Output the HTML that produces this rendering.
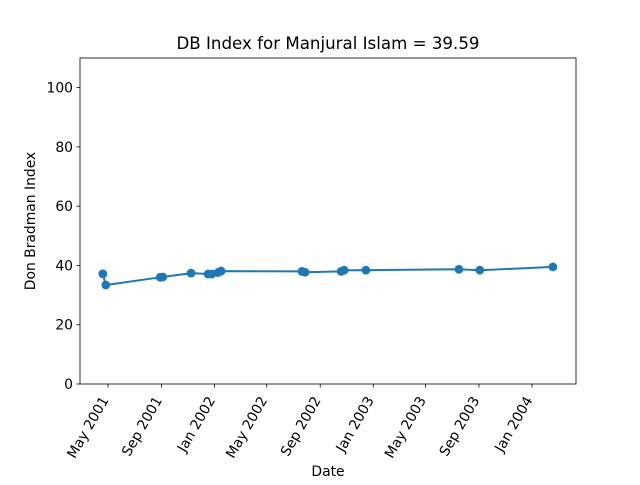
<!DOCTYPE html>
<html><head><meta charset="utf-8"><style>body{margin:0;background:#fff}svg{font-family:"DejaVu Sans","Liberation Sans",sans-serif}</style></head>
<body>
<svg id="c" width="640" height="480" xmlns="http://www.w3.org/2000/svg">
<rect width="640" height="480" fill="#fff"/>
<text x="328" y="49" text-anchor="middle" font-size="16.67">DB Index for Manjural Islam = 39.59</text>
<text x="328" y="476" text-anchor="middle" font-size="13.9">Date</text>
<text transform="translate(35,221) rotate(-90)" text-anchor="middle" font-size="13.9">Don Bradman Index</text>
<g id="axes"></g>
<rect x="80" y="58" width="496" height="326" fill="none" stroke="#000" stroke-width="0.8"/>
</svg>
<script>
const dates=["2001-04-19","2001-04-26","2001-08-29","2001-09-04","2001-11-08","2001-12-17","2001-12-26","2002-01-09","2002-01-16","2002-07-21","2002-07-28","2002-10-19","2002-10-26","2002-12-15","2003-07-17","2003-09-03","2004-02-18"];
const values=[37.2,33.4,36.0,36.1,37.4,37.1,37.1,37.6,38.1,38.0,37.7,38.0,38.4,38.4,38.7,38.4,39.5];
const xTickDates=["2001-05-01","2001-09-01","2002-01-01","2002-05-01","2002-09-01","2003-01-01","2003-05-01","2003-09-01","2004-01-01"];
const xTickLabels=["May 2001","Sep 2001","Jan 2002","May 2002","Sep 2002","Jan 2003","May 2003","Sep 2003","Jan 2004"];
const yTicks=[0,20,40,60,80,100];
const NS="http://www.w3.org/2000/svg";
const g=document.getElementById('axes');
const t0=Date.UTC(2001,4,1),t1=Date.UTC(2004,0,1);
function xs(s){const t=Date.parse(s+"T00:00:00Z");return 108+(t-t0)/(t1-t0)*(532-108);}
function ys(v){return 384-v/110*326;}
function el(n,a){const e=document.createElementNS(NS,n);for(const k in a)e.setAttribute(k,a[k]);g.appendChild(e);return e;}
yTicks.forEach(v=>{const y=ys(v);
const l=el('line',{x1:76.5,x2:80,y1:y,y2:y,stroke:'#000','stroke-width':0.8});


const t=el('text',{x:73,y:y+5,'text-anchor':'end','font-size':13.9});t.textContent=v;


});
xTickDates.forEach((d,i)=>{const x=xs(d);
const l=el('line',{x1:x,x2:x,y1:384,y2:387.5,stroke:'#000','stroke-width':0.8});


const t=el('text',{transform:`translate(${x+1},${400}) rotate(-60)`,'text-anchor':'end','font-size':13.9});t.textContent=xTickLabels[i];


});
const pts=dates.map((d,i)=>[xs(d),ys(values[i])]);
const p=el('polyline',{points:pts.map(q=>q.join(',')).join(' '),fill:'none',stroke:'#1f77b4','stroke-width':2});


pts.forEach(q=>{const c=el('circle',{cx:q[0],cy:q[1],r:4.4,fill:'#1f77b4'});


});
</script>
</body></html>
